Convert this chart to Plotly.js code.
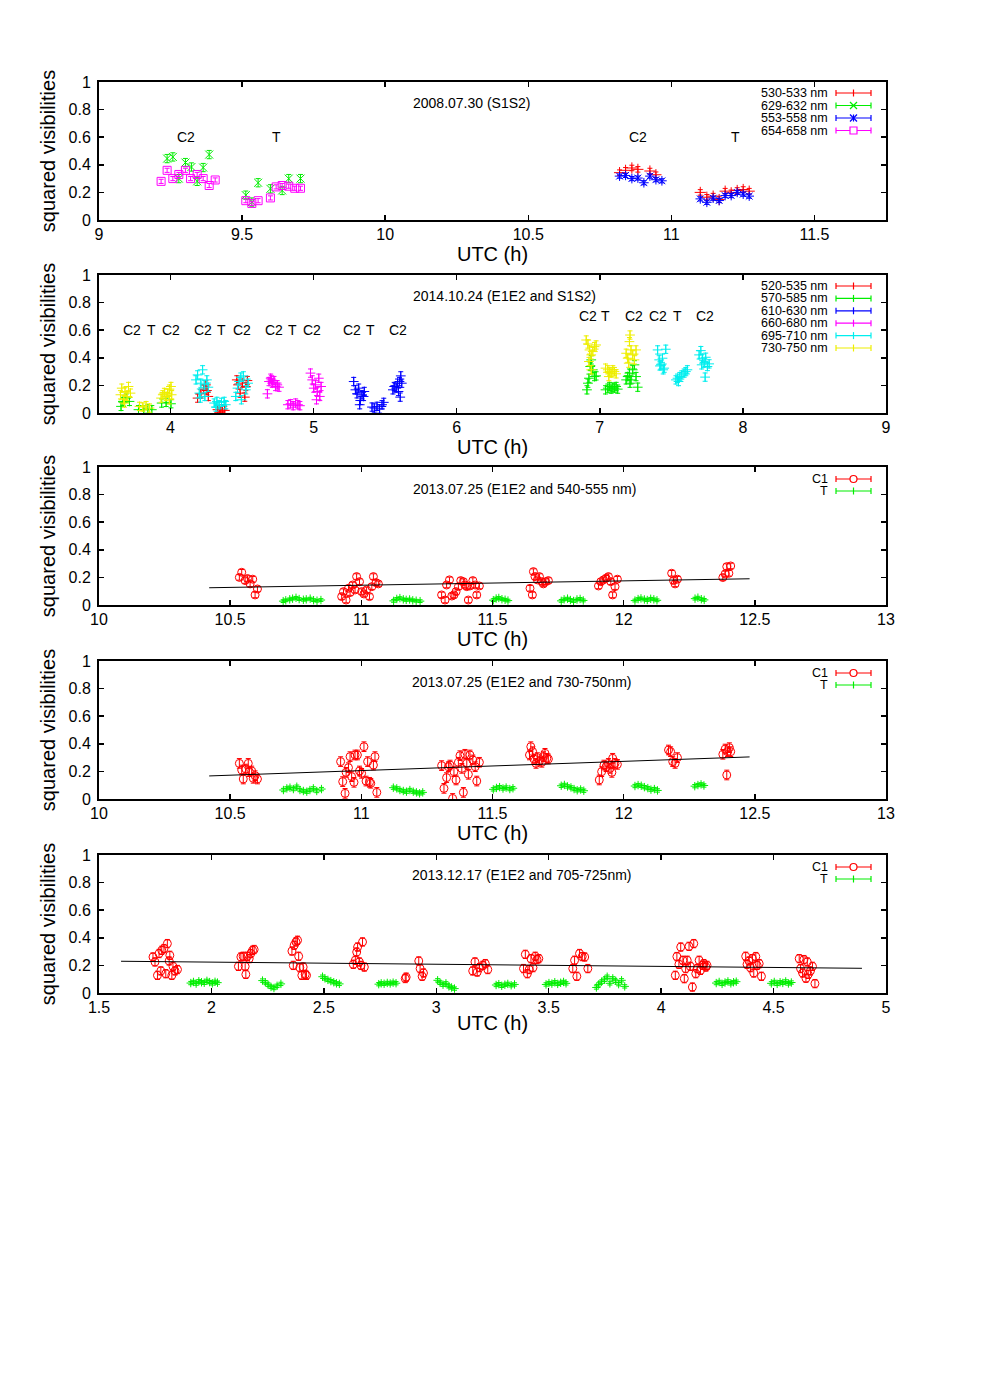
<!DOCTYPE html>
<html>
<head>
<meta charset="utf-8">
<script src="https://cdn.plot.ly/plotly-3.0.1.min.js"></script>
<style>
	body { margin: 0; background: #fff; }
	#chart { width: 984px; height: 1378px; }
</style>
</head>
<body>
<div id="chart"></div>
<script>

// ---------- panel 1 : 2008.07.30 (S1S2) ----------
const p1_red_x = [10.819, 10.840, 10.862, 10.883, 10.925, 10.946, 11.101, 11.124, 11.146, 11.167, 11.188, 11.209, 11.230, 11.251, 11.272];
const p1_red_y = [0.343, 0.360, 0.377, 0.367, 0.355, 0.328, 0.200, 0.165, 0.173, 0.148, 0.209, 0.197, 0.214, 0.221, 0.209];
const p1_green_x = [9.238, 9.258, 9.279, 9.302, 9.323, 9.343, 9.364, 9.385, 9.513, 9.534, 9.556, 9.599, 9.640, 9.663, 9.704];
const p1_green_y = [0.445, 0.457, 0.300, 0.416, 0.384, 0.280, 0.380, 0.474, 0.180, 0.130, 0.270, 0.226, 0.214, 0.300, 0.300];
const p1_blue_x = [10.819, 10.840, 10.862, 10.883, 10.904, 10.925, 10.946, 10.967, 11.101, 11.124, 11.146, 11.167, 11.188, 11.209, 11.230, 11.251, 11.272];
const p1_blue_y = [0.318, 0.323, 0.300, 0.304, 0.270, 0.318, 0.292, 0.284, 0.153, 0.128, 0.158, 0.141, 0.177, 0.177, 0.200, 0.187, 0.173];
const p1_mag_x = [9.217, 9.238, 9.258, 9.279, 9.302, 9.320, 9.343, 9.364, 9.385, 9.406, 9.513, 9.534, 9.556, 9.599, 9.619, 9.640, 9.663, 9.684, 9.704];
const p1_mag_y = [0.280, 0.360, 0.300, 0.330, 0.360, 0.300, 0.330, 0.300, 0.250, 0.290, 0.140, 0.120, 0.140, 0.160, 0.240, 0.250, 0.245, 0.230, 0.230];
const p1_labels = ['C2', 'T', 'C2', 'T'];
const p1_label_x = [9.303, 9.62, 10.884, 11.225];

// ---------- panel 2 : 2014.10.24 (E1E2 and S1S2) ----------
const p2_red_x = [4.189, 4.212, 4.231, 4.247, 4.264, 4.254, 4.328, 4.340, 4.347, 4.363, 4.379, 4.463, 4.472, 4.486, 4.502, 4.519, 4.526, 4.537];
const p2_red_y = [0.108, 0.139, 0.173, 0.204, 0.120, 0.163, 0.024, 0.005, 0.012, 0.029, 0.019, 0.240, 0.204, 0.144, 0.216, 0.115, 0.192, 0.235];
const p2_green_x = [3.654, 3.667, 3.690, 3.713, 3.776, 3.813, 3.841, 3.869, 3.938, 3.969, 4.003, 6.910, 6.917, 6.924, 6.933, 6.940, 6.951, 6.963, 6.974, 7.040, 7.056, 7.068, 7.079, 7.091, 7.102, 7.114, 7.125, 7.184, 7.195, 7.207, 7.211, 7.218, 7.230, 7.242, 7.253, 7.265];
const p2_green_y = [0.048, 0.084, 0.108, 0.084, 0.024, 0.024, 0.029, 0.024, 0.072, 0.077, 0.067, 0.168, 0.216, 0.252, 0.337, 0.385, 0.313, 0.264, 0.269, 0.168, 0.180, 0.192, 0.173, 0.187, 0.180, 0.192, 0.173, 0.240, 0.264, 0.289, 0.216, 0.240, 0.313, 0.349, 0.264, 0.187];
const p2_blue_x = [5.280, 5.292, 5.303, 5.315, 5.322, 5.326, 5.338, 5.349, 5.354, 5.408, 5.424, 5.443, 5.461, 5.478, 5.490, 5.554, 5.563, 5.577, 5.586, 5.593, 5.600, 5.605, 5.609, 5.616];
const p2_blue_y = [0.228, 0.168, 0.139, 0.180, 0.060, 0.091, 0.132, 0.120, 0.156, 0.043, 0.036, 0.048, 0.029, 0.060, 0.077, 0.168, 0.192, 0.180, 0.216, 0.156, 0.228, 0.115, 0.269, 0.216];
const p2_mag_x = [4.677, 4.688, 4.700, 4.705, 4.711, 4.723, 4.734, 4.746, 4.758, 4.820, 4.839, 4.857, 4.874, 4.890, 4.904, 4.978, 4.990, 5.001, 5.013, 5.020, 5.025, 5.036, 5.043, 5.052];
const p2_mag_y = [0.139, 0.228, 0.252, 0.240, 0.216, 0.235, 0.192, 0.204, 0.187, 0.060, 0.067, 0.053, 0.072, 0.060, 0.053, 0.289, 0.240, 0.180, 0.204, 0.096, 0.156, 0.252, 0.120, 0.192];
const p2_cyan_x = [4.178, 4.189, 4.201, 4.208, 4.212, 4.224, 4.236, 4.240, 4.254, 4.264, 4.305, 4.317, 4.324, 4.340, 4.356, 4.375, 4.386, 4.456, 4.468, 4.479, 4.491, 4.495, 4.509, 4.526, 4.542, 7.404, 7.415, 7.420, 7.427, 7.438, 7.443, 7.450, 7.461, 7.532, 7.543, 7.550, 7.559, 7.573, 7.589, 7.601, 7.612, 7.694, 7.706, 7.712, 7.717, 7.729, 7.736, 7.740, 7.752, 7.764];
const p2_cyan_y = [0.240, 0.276, 0.144, 0.108, 0.216, 0.313, 0.204, 0.120, 0.240, 0.187, 0.072, 0.043, 0.084, 0.060, 0.077, 0.084, 0.060, 0.120, 0.180, 0.228, 0.260, 0.096, 0.269, 0.168, 0.216, 0.457, 0.385, 0.341, 0.349, 0.397, 0.313, 0.325, 0.462, 0.240, 0.252, 0.228, 0.264, 0.276, 0.289, 0.300, 0.313, 0.421, 0.452, 0.349, 0.397, 0.361, 0.260, 0.404, 0.337, 0.356];
const p2_yellow_x = [3.650, 3.659, 3.673, 3.678, 3.682, 3.696, 3.706, 3.720, 3.783, 3.806, 3.829, 3.853, 3.934, 3.946, 3.957, 3.969, 3.980, 3.992, 4.003, 4.008, 3.992, 6.905, 6.917, 6.924, 6.928, 6.940, 6.940, 6.951, 6.963, 6.974, 7.040, 7.056, 7.063, 7.068, 7.079, 7.091, 7.102, 7.114, 7.184, 7.195, 7.202, 7.207, 7.211, 7.218, 7.230, 7.242, 7.253];
const p2_yellow_y = [0.132, 0.180, 0.096, 0.072, 0.156, 0.120, 0.192, 0.144, 0.048, 0.043, 0.053, 0.036, 0.108, 0.132, 0.149, 0.120, 0.144, 0.173, 0.192, 0.132, 0.096, 0.529, 0.500, 0.373, 0.457, 0.421, 0.313, 0.445, 0.481, 0.493, 0.325, 0.313, 0.264, 0.300, 0.289, 0.313, 0.300, 0.284, 0.433, 0.397, 0.361, 0.517, 0.565, 0.457, 0.421, 0.385, 0.457];
const p2_labels = ['C2', 'T', 'C2', 'C2', 'T', 'C2', 'C2', 'T', 'C2', 'C2', 'T', 'C2'];
const p2_label_x = [3.732, 3.864, 4.003, 4.226, 4.359, 4.498, 4.721, 4.853, 4.992, 5.271, 5.397, 5.591];
const p2_labels_b = ['C2', 'T', 'C2', 'C2', 'T', 'C2'];
const p2_label_b_x = [6.914, 7.039, 7.241, 7.408, 7.541, 7.736];

// ---------- panel 3 : 2013.07.25 (E1E2 and 540-555 nm) ----------
const p3_c1_x = [10.535, 10.544, 10.557, 10.566, 10.576, 10.586, 10.595, 10.604,
	10.925, 10.932, 10.942, 10.951, 10.957, 10.967, 10.976, 10.982, 10.993, 11.001, 11.010, 11.020, 11.031, 11.040, 11.046, 11.056, 11.065,
	11.306, 11.319, 11.325, 11.336, 11.345, 11.353, 11.361, 11.370, 11.379, 11.389, 11.395, 11.402, 11.408, 11.414, 11.425, 11.434, 11.440, 11.450,
	11.643, 11.652, 11.656, 11.662, 11.671, 11.679, 11.688, 11.694, 11.703, 11.713,
	11.904, 11.913, 11.923, 11.933, 11.942, 11.951, 11.958, 11.967, 11.976,
	12.183, 12.190, 12.196, 12.205,
	12.378, 12.387, 12.393, 12.401, 12.408];
const p3_c1_y = [0.200, 0.237, 0.177, 0.192, 0.153, 0.187, 0.073, 0.116,
	0.061, 0.097, 0.036, 0.121, 0.090, 0.145, 0.109, 0.206, 0.169, 0.097, 0.080, 0.109, 0.061, 0.133, 0.206, 0.162, 0.153,
	0.073, 0.036, 0.145, 0.182, 0.065, 0.073, 0.097, 0.133, 0.177, 0.169, 0.145, 0.133, 0.036, 0.138, 0.177, 0.145, 0.073, 0.138,
	0.121, 0.073, 0.242, 0.206, 0.182, 0.206, 0.169, 0.153, 0.169, 0.177,
	0.138, 0.169, 0.182, 0.194, 0.206, 0.169, 0.073, 0.133, 0.187,
	0.230, 0.177, 0.153, 0.187,
	0.199, 0.225, 0.278, 0.230, 0.283];
const p3_t_x = [10.702, 10.712, 10.727, 10.738, 10.751, 10.763, 10.779, 10.790, 10.805, 10.818, 10.831, 10.846,
	11.123, 11.135, 11.147, 11.160, 11.171, 11.184, 11.196, 11.209, 11.224,
	11.503, 11.514, 11.524, 11.536, 11.548, 11.559,
	11.762, 11.773, 11.786, 11.797, 11.809, 11.822, 11.834, 11.846,
	12.043, 12.055, 12.066, 12.079, 12.090, 12.103, 12.115, 12.127,
	12.272, 12.283, 12.296, 12.307];
const p3_t_y = [0.028, 0.034, 0.041, 0.046, 0.052, 0.043, 0.038, 0.041, 0.046, 0.035, 0.031, 0.036,
	0.030, 0.044, 0.050, 0.041, 0.037, 0.040, 0.034, 0.031, 0.028,
	0.035, 0.047, 0.051, 0.042, 0.038, 0.032,
	0.030, 0.041, 0.046, 0.036, 0.029, 0.040, 0.044, 0.033,
	0.032, 0.043, 0.048, 0.040, 0.036, 0.045, 0.041, 0.034,
	0.046, 0.053, 0.042, 0.037];
const p3_fit_x = [10.42, 12.48];
const p3_fit_y = [0.125, 0.190];

// ---------- panel 4 : 2013.07.25 (E1E2 and 730-750nm) ----------
const p4_c1_x = [10.535, 10.544, 10.550, 10.560, 10.569, 10.573, 10.582, 10.588, 10.595, 10.604,
	10.921, 10.929, 10.938, 10.942, 10.951, 10.957, 10.963, 10.972, 10.976, 10.985, 10.993, 11.001, 11.010, 11.018, 11.024, 11.031, 11.036, 11.046, 11.052, 11.059,
	11.306, 11.315, 11.325, 11.332, 11.338, 11.348, 11.353, 11.361, 11.370, 11.376, 11.383, 11.389, 11.395, 11.402, 11.408, 11.414, 11.425, 11.434, 11.440, 11.450,
	11.641, 11.646, 11.653, 11.658, 11.666, 11.671, 11.679, 11.688, 11.694, 11.700, 11.707, 11.713,
	11.907, 11.916, 11.925, 11.933, 11.942, 11.948, 11.955, 11.958, 11.967, 11.976,
	12.171, 12.179, 12.187, 12.196, 12.205,
	12.378, 12.387, 12.393, 12.396, 12.403, 12.408];
const p4_c1_y = [0.258, 0.210, 0.145, 0.217, 0.258, 0.198, 0.203, 0.150, 0.169, 0.145,
	0.271, 0.126, 0.041, 0.193, 0.227, 0.307, 0.162, 0.121, 0.319, 0.319, 0.203, 0.186, 0.379, 0.130, 0.271, 0.121, 0.114, 0.246, 0.307, 0.048,
	0.242, 0.077, 0.155, 0.234, 0.246, 0.004, 0.198, 0.138, 0.266, 0.314, 0.222, 0.048, 0.324, 0.258, 0.179, 0.319, 0.283, 0.234, 0.130, 0.266,
	0.319, 0.379, 0.343, 0.290, 0.258, 0.300, 0.275, 0.266, 0.307, 0.331, 0.295, 0.290,
	0.138, 0.198, 0.246, 0.234, 0.258, 0.222, 0.193, 0.295, 0.258, 0.251,
	0.355, 0.343, 0.271, 0.258, 0.300,
	0.324, 0.362, 0.174, 0.343, 0.372, 0.343];
const p4_t_x = [10.703, 10.716, 10.728, 10.741, 10.754, 10.766, 10.779, 10.792, 10.804, 10.817, 10.830, 10.848,
	11.122, 11.135, 11.147, 11.160, 11.172, 11.185, 11.198, 11.210, 11.222, 11.234,
	11.503, 11.515, 11.527, 11.540, 11.552, 11.566, 11.578,
	11.762, 11.774, 11.786, 11.799, 11.811, 11.823, 11.836, 11.848,
	12.043, 12.055, 12.067, 12.079, 12.092, 12.104, 12.117, 12.129,
	12.271, 12.283, 12.295, 12.306];
const p4_t_y = [0.065, 0.077, 0.082, 0.072, 0.089, 0.065, 0.058, 0.053, 0.065, 0.077, 0.058, 0.072,
	0.082, 0.077, 0.065, 0.058, 0.053, 0.065, 0.053, 0.048, 0.041, 0.048,
	0.070, 0.080, 0.086, 0.076, 0.083, 0.072, 0.078,
	0.096, 0.102, 0.091, 0.084, 0.072, 0.063, 0.069, 0.060,
	0.094, 0.101, 0.096, 0.086, 0.079, 0.068, 0.072, 0.062,
	0.093, 0.101, 0.106, 0.098];
const p4_fit_x = [10.42, 12.48];
const p4_fit_y = [0.167, 0.305];

// ---------- panel 5 : 2013.12.17 (E1E2 and 705-725nm) ----------
const p5_c1_x = [1.740, 1.749, 1.760, 1.767, 1.775, 1.779, 1.789, 1.797, 1.804, 1.812, 1.815, 1.824, 1.829, 1.838, 1.849,
	2.120, 2.131, 2.141, 2.150, 2.153, 2.160, 2.168, 2.175, 2.183, 2.190,
	2.358, 2.364, 2.368, 2.376, 2.383, 2.388, 2.393, 2.402, 2.408, 2.417, 2.423,
	2.631, 2.640, 2.646, 2.650, 2.658, 2.665, 2.672, 2.680,
	2.862, 2.866,
	2.922, 2.928, 2.937, 2.943,
	3.162, 3.172, 3.182, 3.192, 3.207, 3.218, 3.229,
	3.388, 3.396, 3.405, 3.413, 3.421, 3.430, 3.440, 3.448, 3.456,
	3.607, 3.615, 3.625, 3.637, 3.649, 3.660, 3.674,
	4.063, 4.070, 4.079, 4.087, 4.097, 4.103, 4.109, 4.116, 4.124, 4.130, 4.139, 4.145, 4.154, 4.160, 4.169, 4.175, 4.184, 4.190, 4.199, 4.204,
	4.376, 4.382, 4.391, 4.397, 4.406, 4.412, 4.421, 4.427, 4.436, 4.446,
	4.614, 4.620, 4.629, 4.635, 4.644, 4.650, 4.654, 4.664, 4.673, 4.684];
const p5_c1_y = [0.261, 0.225, 0.128, 0.286, 0.160, 0.309, 0.322, 0.140, 0.358, 0.232, 0.273, 0.128, 0.193, 0.160, 0.170,
	0.193, 0.261, 0.266, 0.193, 0.135, 0.266, 0.249, 0.286, 0.309, 0.315,
	0.304, 0.200, 0.346, 0.370, 0.382, 0.266, 0.184, 0.128, 0.188, 0.135, 0.128,
	0.208, 0.237, 0.297, 0.333, 0.225, 0.200, 0.370, 0.188,
	0.105, 0.115,
	0.232, 0.177, 0.121, 0.145,
	0.160, 0.225, 0.152, 0.184, 0.200, 0.213, 0.170,
	0.177, 0.280, 0.140, 0.170, 0.249, 0.184, 0.266, 0.242, 0.249,
	0.177, 0.237, 0.121, 0.286, 0.264, 0.261, 0.177,
	0.128, 0.264, 0.208, 0.333, 0.237, 0.104, 0.177, 0.237, 0.338, 0.193, 0.043, 0.358, 0.140, 0.177, 0.237, 0.164, 0.200, 0.213, 0.188, 0.200,
	0.266, 0.208, 0.232, 0.184, 0.249, 0.145, 0.264, 0.200, 0.213, 0.121,
	0.249, 0.177, 0.145, 0.242, 0.107, 0.225, 0.135, 0.160, 0.193, 0.068];
const p5_t_x = [1.908, 1.920, 1.932, 1.944, 1.956, 1.968, 1.980, 1.992, 2.004, 2.016, 2.027,
	2.227, 2.240, 2.252, 2.265, 2.278, 2.292, 2.309,
	2.494, 2.505, 2.518, 2.531, 2.544, 2.556, 2.569,
	2.744, 2.755, 2.768, 2.782, 2.795, 2.808, 2.821,
	3.006, 3.017, 3.030, 3.043, 3.056, 3.068, 3.081,
	3.266, 3.278, 3.291, 3.305, 3.318, 3.333, 3.348,
	3.488, 3.501, 3.514, 3.527, 3.540, 3.553, 3.566, 3.577,
	3.712, 3.722, 3.735, 3.748, 3.760, 3.772, 3.785, 3.798, 3.811, 3.824, 3.838,
	4.245, 4.258, 4.271, 4.284, 4.297, 4.310, 4.322, 4.334,
	4.490, 4.503, 4.516, 4.529, 4.541, 4.554, 4.566, 4.579];
const p5_t_y = [0.072, 0.080, 0.068, 0.085, 0.078, 0.074, 0.088, 0.079, 0.070, 0.081, 0.075,
	0.090, 0.078, 0.060, 0.044, 0.036, 0.052, 0.066,
	0.118, 0.106, 0.095, 0.086, 0.078, 0.070, 0.066,
	0.064, 0.070, 0.067, 0.073, 0.069, 0.075, 0.071,
	0.092, 0.074, 0.060, 0.070, 0.048, 0.040, 0.032,
	0.058, 0.064, 0.052, 0.060, 0.066, 0.056, 0.062,
	0.062, 0.072, 0.068, 0.078, 0.066, 0.074, 0.080, 0.070,
	0.040, 0.062, 0.082, 0.096, 0.118, 0.070, 0.106, 0.088, 0.064, 0.092, 0.048,
	0.072, 0.080, 0.066, 0.076, 0.084, 0.070, 0.078, 0.082,
	0.070, 0.080, 0.066, 0.078, 0.073, 0.084, 0.069, 0.076];
const p5_fit_x = [1.598, 4.893];
const p5_fit_y = [0.230, 0.179];

// ---------- geometry (page pixels) ----------
const ML = 99, MR = 98, MT = 82, MB = 385;
const W = 984, H = 1378;
const PW = W - ML - MR;
const PH = H - MT - MB;
const panelTops = [82, 275, 467, 661, 855];
const panelHeight = 138;
const FONT = 'Liberation Sans, Arial, Helvetica, sans-serif';

function px(x){ return (x - ML) / PW; }
function py(y){ return (H - MB - y) / PH; }

function errTrace(x, y, err, color, symbol, size, axis){
	return {
		x: x,
		y: y,
		xaxis: 'x' + axis,
		yaxis: 'y' + axis,
		mode: 'markers',
		type: 'scatter',
		marker: {
			symbol: symbol,
			size: size,
			color: color,
			line: { color: color, width: 1 }
		},
		error_y: {
			type: 'constant',
			value: err,
			color: color,
			thickness: 1,
			width: 2.5
		}
	};
}

function fitTrace(x, y, axis){
	return {
		x: x,
		y: y,
		xaxis: 'x' + axis,
		yaxis: 'y' + axis,
		mode: 'lines',
		type: 'scatter',
		line: { color: 'black', width: 1 }
	};
}

function axisPair(layout, i, range, tick0, dtick){
	const top = panelTops[i - 1];
	const suffix = i === 1 ? '' : String(i);
	layout['xaxis' + suffix] = {
		domain: [0, 1],
		anchor: 'y' + suffix,
		range: range,
		tick0: tick0,
		dtick: dtick,
		showline: true,
		mirror: 'ticks',
		linewidth: 2,
		linecolor: 'black',
		ticks: 'inside',
		ticklen: 5,
		tickwidth: 1.5,
		tickcolor: 'black',
		showgrid: false,
		zeroline: false,
		tickfont: { size: 16, color: 'black' },
		ticklabelstandoff: -1,
		title: { text: 'UTC (h)', font: { size: 20, color: 'black' }, standoff: 1 }
	};
	layout['yaxis' + suffix] = {
		domain: [py(top + panelHeight), py(top)],
		anchor: 'x' + suffix,
		range: [0, 1],
		tick0: 0,
		dtick: 0.2,
		showline: true,
		mirror: 'ticks',
		linewidth: 2,
		linecolor: 'black',
		ticks: 'inside',
		ticklen: 5,
		tickwidth: 1.5,
		tickcolor: 'black',
		showgrid: false,
		zeroline: false,
		tickfont: { size: 16, color: 'black' },
		ticklabelstandoff: 3,
		title: { text: 'squared visibilities', font: { size: 20, color: 'black' }, standoff: 8 }
	};
}

function addText(annotations, text, x, y, xref, yref, size){
	annotations.push({
		text: text, x: x, y: y, xref: xref, yref: yref,
		showarrow: false, xanchor: 'center', yanchor: 'middle',
		font: { size: size || 14, color: 'black' }
	});
}

// legend entry drawn gnuplot style: label on the left, key with caps on the right
function legendKey(shapes, annotations, yPx, label, color, symbol){
	const x0 = 836, x1 = 871, xm = 853.5, cap = 3, s = 3.5;
	annotations.push({
		text: label, x: px(829), y: py(yPx), xref: 'paper', yref: 'paper',
		showarrow: false, xanchor: 'right', yanchor: 'middle',
		borderpad: 0,
		font: { size: 12.5, color: 'black' }
	});
	const seg = (ax, ay, bx, by) => shapes.push({
		type: 'line', xref: 'paper', yref: 'paper',
		x0: px(ax), y0: py(ay), x1: px(bx), y1: py(by),
		line: { color: color, width: 1.2 }
	});
	seg(x0, yPx, x1, yPx);
	seg(x0, yPx - cap, x0, yPx + cap);
	seg(x1, yPx - cap, x1, yPx + cap);
	if(symbol === 'plus' || symbol === 'star'){
		seg(xm, yPx - s, xm, yPx + s);
	}
	if(symbol === 'x' || symbol === 'star'){
		seg(xm - s, yPx - s, xm + s, yPx + s);
		seg(xm - s, yPx + s, xm + s, yPx - s);
	}
	if(symbol === 'square' || symbol === 'circle'){
		shapes.push({
			type: symbol === 'square' ? 'rect' : 'circle',
			xref: 'paper', yref: 'paper',
			x0: px(xm - s), x1: px(xm + s), y0: py(yPx + s), y1: py(yPx - s),
			line: { color: color, width: 1.2 }, fillcolor: 'white'
		});
	}
}

const RED = '#ff0000', GREEN = '#00ee00', BLUE = '#0000ff', MAGENTA = '#ff00ff', CYAN = '#00eeee', YELLOW = '#eeee00';

const traces = [
	errTrace(p1_green_x, p1_green_y, 0.03, GREEN, 'x-thin-open', 8, ''),
	errTrace(p1_mag_x, p1_mag_y, 0.015, MAGENTA, 'square-open', 8, ''),
	errTrace(p1_red_x, p1_red_y, 0.02, RED, 'cross-thin-open', 8, ''),
	errTrace(p1_blue_x, p1_blue_y, 0.015, BLUE, 'asterisk-open', 8, ''),

	errTrace(p2_red_x, p2_red_y, 0.03, RED, 'cross-thin-open', 7, '2'),
	errTrace(p2_green_x, p2_green_y, 0.03, GREEN, 'cross-thin-open', 7, '2'),
	errTrace(p2_blue_x, p2_blue_y, 0.03, BLUE, 'cross-thin-open', 7, '2'),
	errTrace(p2_mag_x, p2_mag_y, 0.03, MAGENTA, 'cross-thin-open', 7, '2'),
	errTrace(p2_cyan_x, p2_cyan_y, 0.03, CYAN, 'cross-thin-open', 7, '2'),
	errTrace(p2_yellow_x, p2_yellow_y, 0.03, YELLOW, 'cross-thin-open', 7, '2'),

	errTrace(p3_c1_x, p3_c1_y, 0.02, RED, 'circle-open', 8, '3'),
	errTrace(p3_t_x, p3_t_y, 0.01, GREEN, 'cross-thin-open', 6, '3'),
	fitTrace(p3_fit_x, p3_fit_y, '3'),

	errTrace(p4_c1_x, p4_c1_y, 0.035, RED, 'circle-open', 8, '4'),
	errTrace(p4_t_x, p4_t_y, 0.012, GREEN, 'cross-thin-open', 6, '4'),
	fitTrace(p4_fit_x, p4_fit_y, '4'),

	errTrace(p5_c1_x, p5_c1_y, 0.03, RED, 'circle-open', 8, '5'),
	errTrace(p5_t_x, p5_t_y, 0.012, GREEN, 'cross-thin-open', 6, '5'),
	fitTrace(p5_fit_x, p5_fit_y, '5')
];

const layout = {
	width: W,
	height: H,
	margin: { l: ML, r: MR, t: MT, b: MB },
	paper_bgcolor: 'white',
	plot_bgcolor: 'white',
	showlegend: false,
	font: { family: FONT, color: 'black' },
	annotations: [],
	shapes: []
};

axisPair(layout, 1, [9, 11.75], 9, 0.5);
axisPair(layout, 2, [3.5, 9], 4, 1);
axisPair(layout, 3, [10, 13], 10, 0.5);
axisPair(layout, 4, [10, 13], 10, 0.5);
axisPair(layout, 5, [1.5, 5], 1.5, 0.5);

const ann = layout.annotations;
const shp = layout.shapes;

// panel titles
addText(ann, '2008.07.30 (S1S2)', px(472), py(103), 'paper', 'paper');
addText(ann, '2014.10.24 (E1E2 and S1S2)', px(504), py(296), 'paper', 'paper');
addText(ann, '2013.07.25 (E1E2 and 540-555 nm)', px(524), py(489), 'paper', 'paper');
addText(ann, '2013.07.25 (E1E2 and 730-750nm)', px(522), py(682), 'paper', 'paper');
addText(ann, '2013.12.17 (E1E2 and 705-725nm)', px(522), py(875), 'paper', 'paper');

// target labels
p1_labels.forEach((t, i) => addText(ann, t, p1_label_x[i], 0.60, 'x', 'y'));
p2_labels.forEach((t, i) => addText(ann, t, p2_label_x[i], 0.60, 'x2', 'y2'));
p2_labels_b.forEach((t, i) => addText(ann, t, p2_label_b_x[i], 0.70, 'x2', 'y2'));

// legends
legendKey(shp, ann, 93, '530-533 nm', RED, 'plus');
legendKey(shp, ann, 105.5, '629-632 nm', GREEN, 'x');
legendKey(shp, ann, 118, '553-558 nm', BLUE, 'star');
legendKey(shp, ann, 130.5, '654-658 nm', MAGENTA, 'square');

const p2_leg = ['520-535 nm', '570-585 nm', '610-630 nm', '660-680 nm', '695-710 nm', '730-750 nm'];
const p2_leg_col = [RED, GREEN, BLUE, MAGENTA, CYAN, YELLOW];
p2_leg.forEach((t, i) => legendKey(shp, ann, 286 + i * 12.4, t, p2_leg_col[i], 'plus'));

[467, 661, 855].forEach(top => {
	legendKey(shp, ann, top + 12, 'C1', RED, 'circle');
	legendKey(shp, ann, top + 24, 'T', GREEN, 'plus');
});

Plotly.newPlot('chart', traces, layout, { staticPlot: true });

</script>
</body>
</html>
